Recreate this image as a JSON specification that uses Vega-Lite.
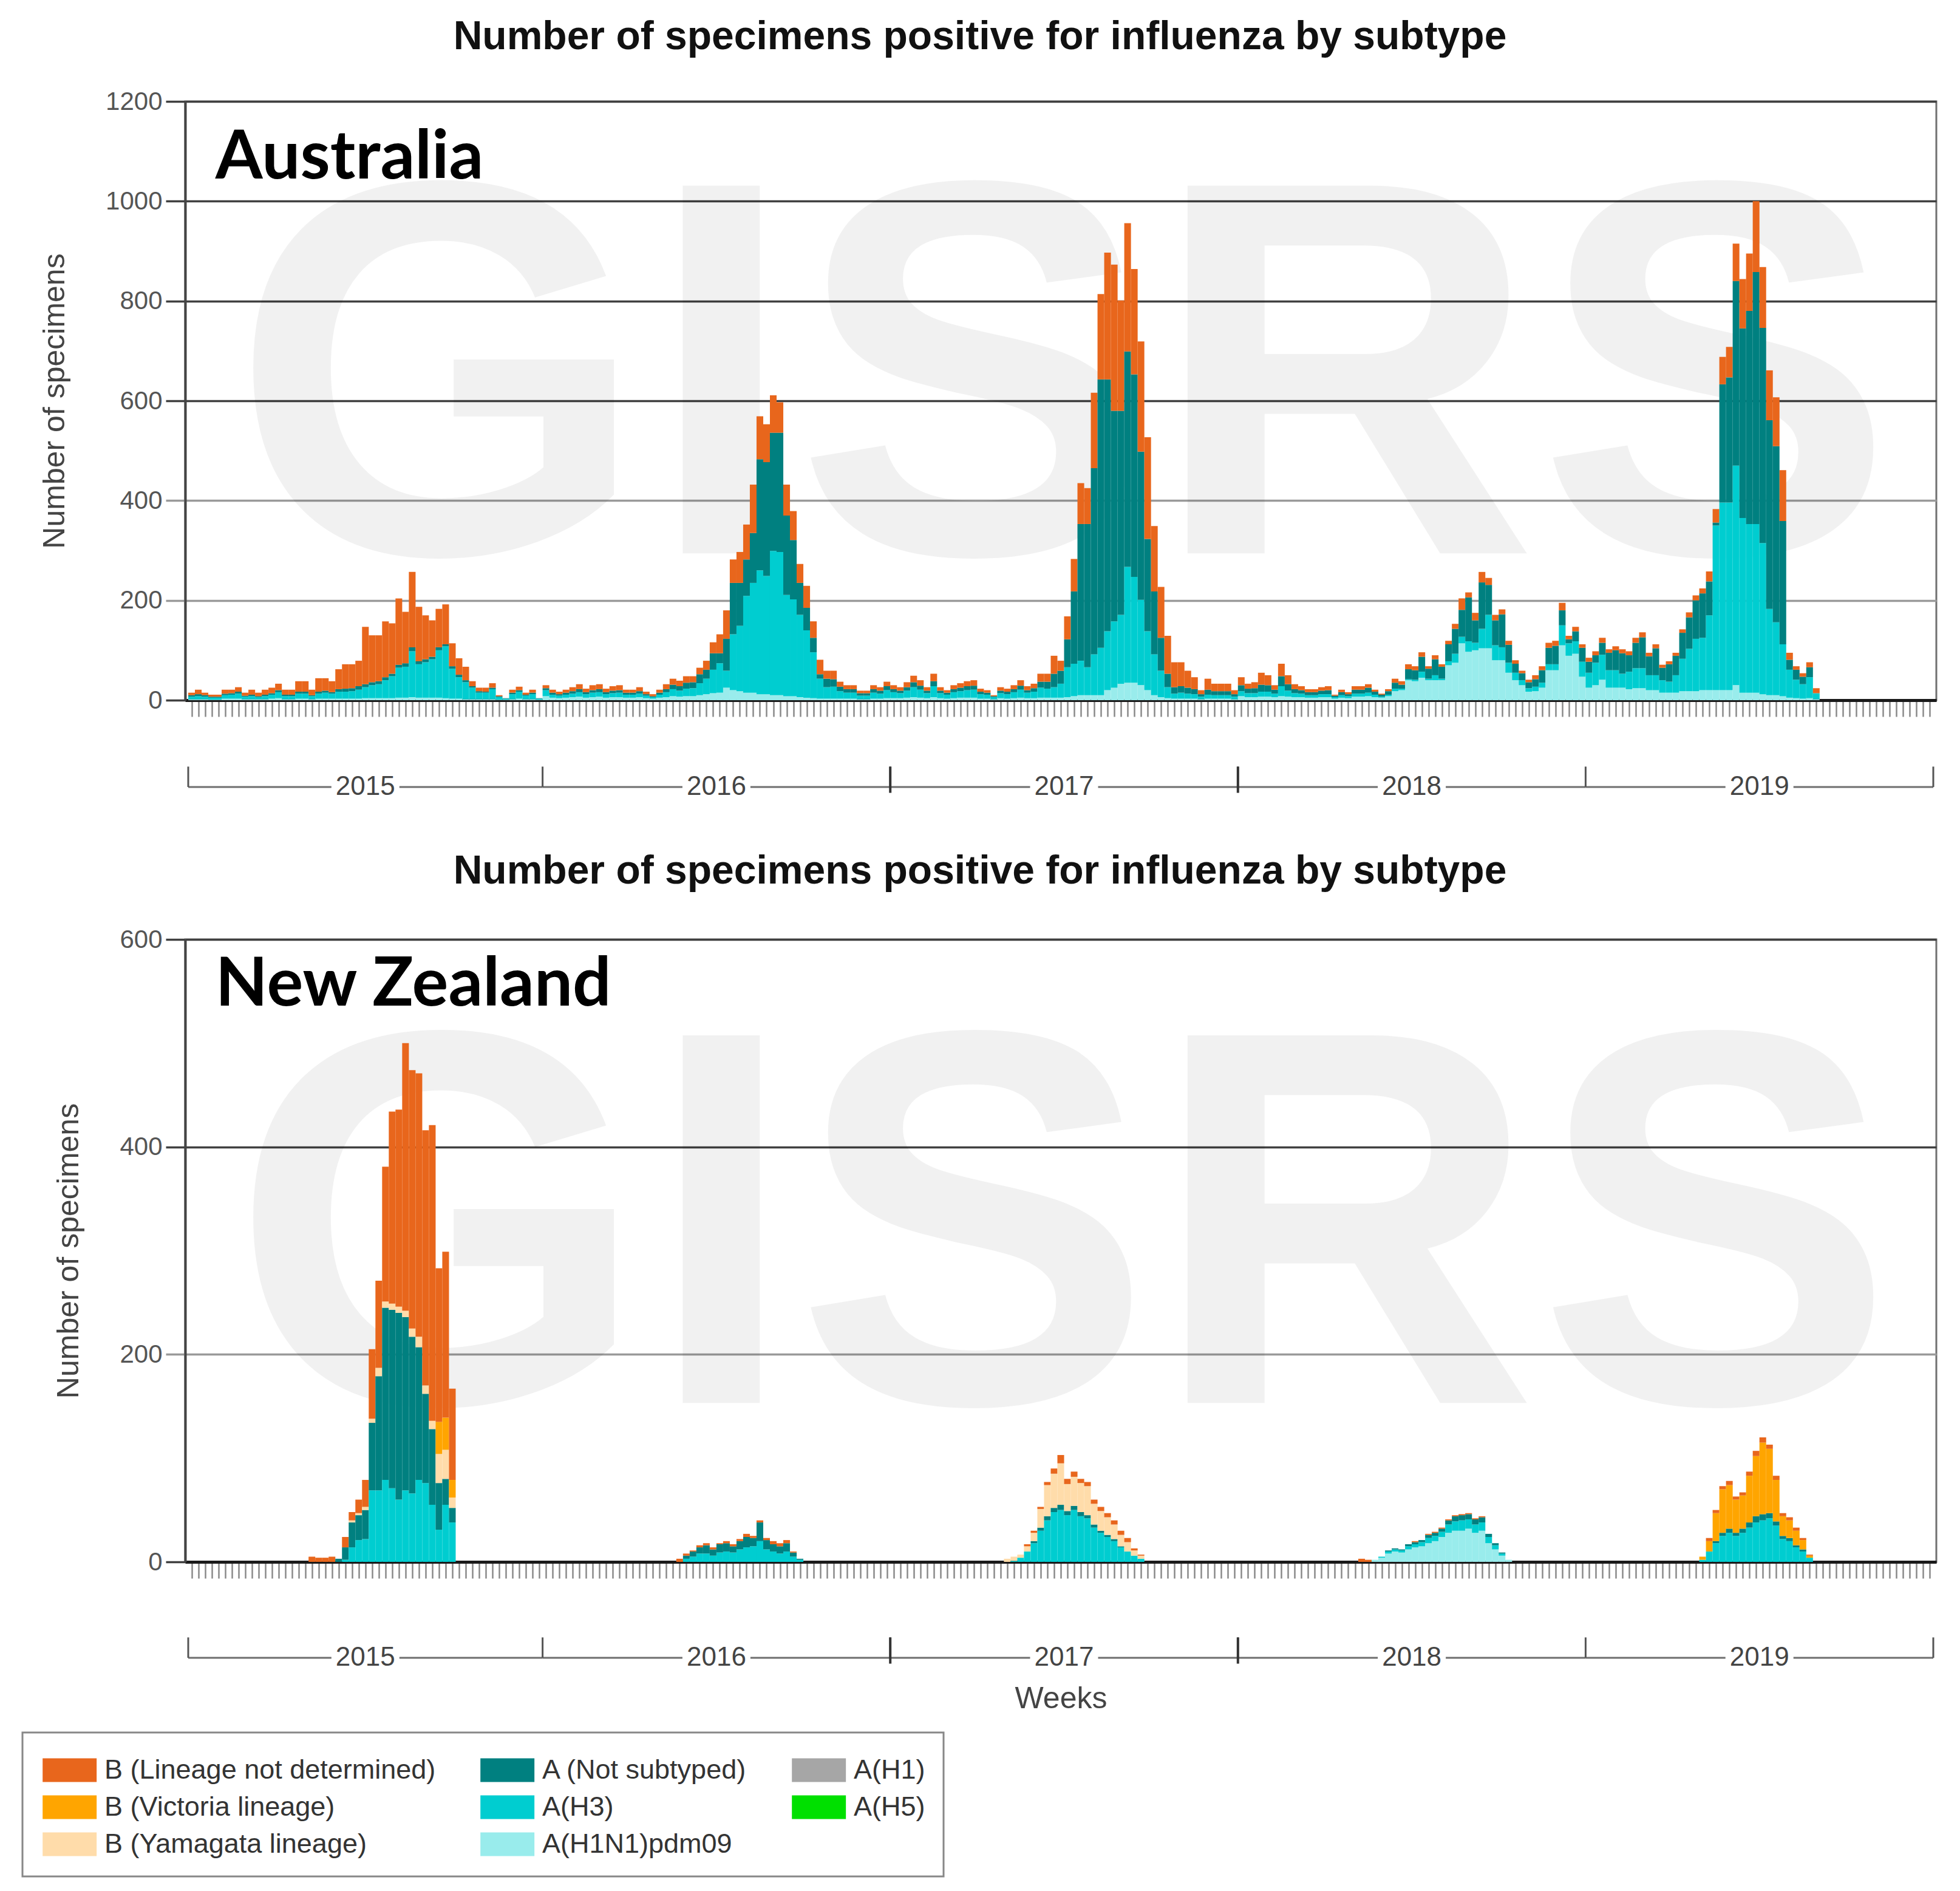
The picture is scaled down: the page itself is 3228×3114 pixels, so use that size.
{
"$schema": "https://vega.github.io/schema/vega-lite/v6.json",
"background": "white",
"padding": {"left": 35, "top": 26, "right": 30, "bottom": 10},
"config": {"view": {"stroke": null}, "font": "Liberation Sans", "axis": {"labelFont": "Liberation Sans", "titleFont": "Liberation Sans"}, "legend": {"strokeWidth": 3}},
"datasets": {
"lab": [{"k":"p","sub":"A(H1N1)pdm09"},{"k":"h","sub":"A(H3)"},{"k":"n","sub":"A (Not subtyped)"},{"k":"y","sub":"B (Yamagata lineage)"},{"k":"v","sub":"B (Victoria lineage)"},{"k":"b","sub":"B (Lineage not determined)"}],
"yrs": [{"year":"2015","s":-0.5,"e":52.5},{"year":"2016","s":52.5,"e":104.5},{"year":"2017","s":104.5,"e":156.5},{"year":"2018","s":156.5,"e":208.5},{"year":"2019","s":208.5,"e":260.5}],
"au": [
{"w":0,"p":2,"h":5,"n":3,"b":5},{"w":1,"p":2,"h":6,"n":4,"b":9},{"w":2,"p":2,"h":5,"n":3,"b":5},{"w":3,"p":1,"h":4,"n":2,"b":4},{"w":4,"p":1,"h":4,"n":2,"b":4},
{"w":5,"p":3,"h":7,"n":3,"b":8},{"w":6,"p":3,"h":8,"n":3,"b":7},{"w":7,"p":3,"h":10,"n":4,"b":9},{"w":8,"p":2,"h":5,"n":2,"b":6},{"w":9,"p":2,"h":6,"n":3,"b":10},
{"w":10,"p":2,"h":4,"n":2,"b":7},{"w":11,"p":2,"h":6,"n":3,"b":10},{"w":12,"p":3,"h":8,"n":3,"b":11},{"w":13,"p":4,"h":12,"n":4,"b":13},{"w":14,"p":2,"h":6,"n":3,"b":10},
{"w":15,"p":2,"h":6,"n":3,"b":10},{"w":16,"p":3,"h":10,"n":4,"b":21},{"w":17,"p":3,"h":10,"n":4,"b":21},{"w":18,"p":2,"h":6,"n":2,"b":11},{"w":19,"p":3,"h":10,"n":4,"b":27},
{"w":20,"p":3,"h":12,"n":4,"b":25},{"w":21,"p":3,"h":10,"n":3,"b":22},{"w":22,"p":3,"h":14,"n":5,"b":40},{"w":23,"p":3,"h":14,"n":6,"b":49},{"w":24,"p":3,"h":15,"n":6,"b":48},
{"w":25,"p":3,"h":18,"n":7,"b":51},{"w":26,"p":4,"h":22,"n":6,"b":115},{"w":27,"p":4,"h":26,"n":6,"b":94},{"w":28,"p":4,"h":28,"n":6,"b":92},{"w":29,"p":4,"h":36,"n":6,"b":112},
{"w":30,"p":4,"h":44,"n":5,"b":101},{"w":31,"p":5,"h":60,"n":6,"b":133},{"w":32,"p":5,"h":62,"n":7,"b":103},{"w":33,"p":6,"h":92,"n":8,"b":151},{"w":34,"p":5,"h":67,"n":6,"b":109},
{"w":35,"p":5,"h":71,"n":6,"b":88},{"w":36,"p":5,"h":77,"n":5,"b":73},{"w":37,"p":5,"h":95,"n":6,"b":77},{"w":38,"p":4,"h":104,"n":4,"b":80},{"w":39,"p":3,"h":60,"n":5,"b":46},
{"w":40,"p":3,"h":43,"n":5,"b":33},{"w":41,"p":2,"h":34,"n":4,"b":27},{"w":42,"p":2,"h":23,"n":3,"b":10},{"w":43,"p":2,"h":13,"n":3,"b":7},{"w":44,"p":2,"h":13,"n":2,"b":8},
{"w":45,"p":2,"h":20,"n":3,"b":9},{"w":46,"p":1,"h":5,"n":2,"b":2},{"w":47,"p":1,"h":2,"n":1},{"w":48,"p":2,"h":10,"n":3,"b":6},{"w":49,"p":3,"h":14,"n":3,"b":7},
{"w":50,"p":2,"h":7,"n":2,"b":4},{"w":51,"p":2,"h":10,"n":3,"b":6},{"w":52,"p":1,"h":2,"n":1},
{"w":53,"p":8,"h":12,"n":4,"b":6},{"w":54,"p":5,"h":6,"n":4,"b":6},{"w":55,"p":4,"h":5,"n":3,"b":5},{"w":56,"p":5,"h":6,"n":4,"b":6},{"w":57,"p":6,"h":7,"n":5,"b":8},
{"w":58,"p":7,"h":9,"n":6,"b":10},{"w":59,"p":5,"h":7,"n":4,"b":7},{"w":60,"p":6,"h":9,"n":5,"b":10},{"w":61,"p":7,"h":9,"n":6,"b":10},{"w":62,"p":5,"h":7,"n":4,"b":7},
{"w":63,"p":6,"h":8,"n":5,"b":9},{"w":64,"p":6,"h":9,"n":5,"b":10},{"w":65,"p":5,"h":6,"n":4,"b":6},{"w":66,"p":5,"h":6,"n":4,"b":6},{"w":67,"p":6,"h":7,"n":5,"b":8},
{"w":68,"p":4,"h":5,"n":3,"b":5},{"w":69,"p":3,"h":3,"n":2,"b":4},{"w":70,"p":5,"h":6,"n":4,"b":6},{"w":71,"p":6,"h":10,"n":6,"b":10},{"w":72,"p":8,"h":14,"n":9,"b":12},
{"w":73,"p":7,"h":12,"n":9,"b":11},{"w":74,"p":8,"h":15,"n":12,"b":13},{"w":75,"p":8,"h":16,"n":12,"b":12},{"w":76,"p":10,"h":24,"n":18,"b":13},{"w":77,"p":12,"h":31,"n":18,"b":18},
{"w":78,"p":14,"h":47,"n":33,"b":22},{"w":79,"p":15,"h":59,"n":20,"b":38},{"w":80,"p":25,"h":34,"n":64,"b":57},{"w":81,"p":20,"h":112,"n":103,"b":47},{"w":82,"p":18,"h":131,"n":86,"b":62},
{"w":83,"p":15,"h":194,"n":73,"b":70},{"w":84,"p":15,"h":220,"n":100,"b":97},{"w":85,"p":12,"h":248,"n":223,"b":86},{"w":86,"p":12,"h":237,"n":228,"b":76},{"w":87,"p":10,"h":289,"n":237,"b":75},
{"w":88,"p":10,"h":287,"n":239,"b":61},{"w":89,"p":8,"h":203,"n":159,"b":62},{"w":90,"p":8,"h":194,"n":119,"b":58},{"w":91,"p":6,"h":165,"n":64,"b":38},{"w":92,"p":5,"h":135,"n":45,"b":44},
{"w":93,"p":4,"h":92,"n":29,"b":33},{"w":94,"p":3,"h":40,"n":9,"b":29},{"w":95,"p":3,"h":23,"n":17,"b":16},{"w":96,"p":3,"h":24,"n":15,"b":17},{"w":97,"p":3,"h":15,"n":9,"b":10},
{"w":98,"p":3,"h":12,"n":7,"b":8},{"w":99,"p":3,"h":12,"n":7,"b":8},{"w":100,"p":2,"h":7,"n":5,"b":5},{"w":101,"p":2,"h":7,"n":5,"b":5},{"w":102,"p":3,"h":12,"n":7,"b":8},
{"w":103,"p":3,"h":10,"n":6,"b":7},{"w":104,"p":4,"h":16,"n":8,"b":9},
{"w":105,"p":4,"h":12,"n":6,"b":8},{"w":106,"p":4,"h":10,"n":5,"b":7},{"w":107,"p":5,"h":14,"n":7,"b":10},{"w":108,"p":6,"h":20,"n":10,"b":13},{"w":109,"p":5,"h":16,"n":8,"b":11},
{"w":110,"p":4,"h":10,"n":5,"b":7},{"w":111,"p":6,"h":22,"n":10,"b":15},{"w":112,"p":4,"h":10,"n":5,"b":7},{"w":113,"p":3,"h":8,"n":4,"b":5},{"w":114,"p":4,"h":12,"n":6,"b":8},
{"w":115,"p":5,"h":13,"n":7,"b":9},{"w":116,"p":5,"h":15,"n":8,"b":10},{"w":117,"p":5,"h":16,"n":8,"b":11},{"w":118,"p":3,"h":9,"n":5,"b":6},{"w":119,"p":3,"h":8,"n":4,"b":5},
{"w":120,"p":2,"h":4,"n":2,"b":2},{"w":121,"p":4,"h":10,"n":5,"b":7},{"w":122,"p":3,"h":9,"n":5,"b":6},{"w":123,"p":4,"h":12,"n":6,"b":8},{"w":124,"p":5,"h":16,"n":8,"b":11},
{"w":125,"p":4,"h":11,"n":5,"b":8},{"w":126,"p":4,"h":13,"n":7,"b":9},{"w":127,"p":5,"h":20,"n":12,"b":16},{"w":128,"p":5,"h":18,"n":14,"b":16},{"w":129,"p":5,"h":21,"n":27,"b":36},
{"w":130,"p":5,"h":28,"n":26,"b":20},{"w":131,"p":6,"h":60,"n":56,"b":46},{"w":132,"p":8,"h":65,"n":145,"b":65},{"w":133,"p":10,"h":69,"n":274,"b":82},{"w":134,"p":10,"h":56,"n":287,"b":72},
{"w":135,"p":10,"h":82,"n":373,"b":151},{"w":136,"p":10,"h":95,"n":538,"b":171},{"w":137,"p":20,"h":118,"n":505,"b":254},{"w":138,"p":25,"h":133,"n":422,"b":293},{"w":139,"p":33,"h":138,"n":409,"b":221},
{"w":140,"p":35,"h":232,"n":432,"b":257},{"w":141,"p":35,"h":212,"n":406,"b":211},{"w":142,"p":30,"h":171,"n":297,"b":221},{"w":143,"p":20,"h":118,"n":185,"b":204},{"w":144,"p":10,"h":82,"n":126,"b":131},
{"w":145,"p":6,"h":53,"n":66,"b":102},{"w":146,"p":4,"h":22,"n":27,"b":76},{"w":147,"p":3,"h":10,"n":13,"b":50},{"w":148,"p":3,"h":12,"n":13,"b":48},{"w":149,"p":3,"h":10,"n":12,"b":34},
{"w":150,"p":3,"h":9,"n":10,"b":24},{"w":151,"p":2,"h":5,"n":5,"b":8},{"w":152,"p":3,"h":8,"n":10,"b":22},{"w":153,"p":3,"h":7,"n":8,"b":15},{"w":154,"p":3,"h":7,"n":8,"b":15},
{"w":155,"p":3,"h":7,"n":8,"b":15},{"w":156,"p":2,"h":5,"n":5,"b":8},
{"w":157,"p":8,"h":10,"n":12,"b":16},{"w":158,"p":6,"h":8,"n":9,"b":10},{"w":159,"p":6,"h":8,"n":10,"b":12},{"w":160,"p":7,"h":10,"n":14,"b":24},{"w":161,"p":7,"h":10,"n":13,"b":20},
{"w":162,"p":6,"h":7,"n":8,"b":9},{"w":163,"p":8,"h":20,"n":20,"b":25},{"w":164,"p":7,"h":12,"n":13,"b":18},{"w":165,"p":6,"h":8,"n":8,"b":10},{"w":166,"p":6,"h":7,"n":7,"b":8},
{"w":167,"p":5,"h":5,"n":6,"b":6},{"w":168,"p":5,"h":5,"n":6,"b":6},{"w":169,"p":6,"h":6,"n":7,"b":7},{"w":170,"p":6,"h":6,"n":8,"b":8},{"w":171,"p":3,"h":3,"n":3,"b":2},
{"w":172,"p":5,"h":5,"n":6,"b":5},{"w":173,"p":4,"h":4,"n":4,"b":4},{"w":174,"p":7,"h":6,"n":8,"b":7},{"w":175,"p":7,"h":6,"n":8,"b":7},{"w":176,"p":8,"h":7,"n":10,"b":7},
{"w":177,"p":6,"h":5,"n":6,"b":4},{"w":178,"p":5,"h":2,"n":4,"b":2},{"w":179,"p":8,"h":3,"n":7,"b":4},{"w":180,"p":18,"h":5,"n":12,"b":8},{"w":181,"p":20,"h":3,"n":8,"b":7},
{"w":182,"p":40,"h":2,"n":20,"b":10},{"w":183,"p":38,"h":3,"n":19,"b":8},{"w":184,"p":45,"h":12,"n":30,"b":9},{"w":185,"p":40,"h":3,"n":20,"b":5},{"w":186,"p":40,"h":10,"n":32,"b":8},
{"w":187,"p":40,"h":3,"n":24,"b":5},{"w":188,"p":70,"h":8,"n":34,"b":7},{"w":189,"p":75,"h":18,"n":50,"b":10},{"w":190,"p":114,"h":13,"n":54,"b":23},{"w":191,"p":97,"h":21,"n":88,"b":10},
{"w":192,"p":100,"h":15,"n":45,"b":15},{"w":193,"p":104,"h":39,"n":93,"b":21},{"w":194,"p":104,"h":67,"n":60,"b":14},{"w":195,"p":80,"h":30,"n":50,"b":11},{"w":196,"p":80,"h":26,"n":66,"b":10},
{"w":197,"p":55,"h":20,"n":36,"b":8},{"w":198,"p":40,"h":15,"n":18,"b":7},{"w":199,"p":30,"h":10,"n":14,"b":5},{"w":200,"p":17,"h":7,"n":12,"b":5},{"w":201,"p":18,"h":9,"n":15,"b":8},
{"w":202,"p":25,"h":10,"n":25,"b":8},{"w":203,"p":60,"h":12,"n":33,"b":10},{"w":204,"p":60,"h":12,"n":37,"b":10},{"w":205,"p":110,"h":40,"n":30,"b":15},{"w":206,"p":89,"h":25,"n":8,"b":7},
{"w":207,"p":93,"h":25,"n":20,"b":9},{"w":208,"p":47,"h":30,"n":28,"b":7},
{"w":209,"p":25,"h":30,"n":22,"b":8},{"w":210,"p":30,"h":45,"n":15,"b":8},{"w":211,"p":41,"h":50,"n":24,"b":10},{"w":212,"p":25,"h":35,"n":35,"b":7},{"w":213,"p":25,"h":35,"n":40,"b":8},
{"w":214,"p":25,"h":28,"n":41,"b":8},{"w":215,"p":22,"h":35,"n":33,"b":8},{"w":216,"p":24,"h":40,"n":51,"b":10},{"w":217,"p":24,"h":40,"n":62,"b":10},{"w":218,"p":20,"h":30,"n":38,"b":7},
{"w":219,"p":20,"h":30,"n":54,"b":8},{"w":220,"p":15,"h":25,"n":25,"b":6},{"w":221,"p":15,"h":22,"n":35,"b":6},{"w":222,"p":15,"h":35,"n":39,"b":6},{"w":223,"p":18,"h":65,"n":52,"b":7},
{"w":224,"p":18,"h":85,"n":63,"b":10},{"w":225,"p":18,"h":105,"n":77,"b":10},{"w":226,"p":20,"h":105,"n":89,"b":10},{"w":227,"p":20,"h":150,"n":68,"b":20},{"w":228,"p":20,"h":330,"n":6,"b":27},
{"w":229,"p":20,"h":376,"n":237,"b":55},{"w":230,"p":20,"h":376,"n":251,"b":61},{"w":231,"p":30,"h":440,"n":370,"b":75},{"w":232,"p":15,"h":350,"n":380,"b":99},{"w":233,"p":15,"h":338,"n":427,"b":115},
{"w":234,"p":15,"h":338,"n":505,"b":142},{"w":235,"p":12,"h":303,"n":431,"b":122},{"w":236,"p":10,"h":173,"n":378,"b":100},{"w":237,"p":10,"h":146,"n":353,"b":98},{"w":238,"p":8,"h":104,"n":247,"b":102},
{"w":239,"p":5,"h":56,"n":20,"b":14},{"w":240,"p":4,"h":37,"n":20,"b":7},{"w":241,"p":3,"h":29,"n":15,"b":7},{"w":242,"p":4,"h":42,"n":20,"b":10},{"w":243,"p":2,"h":12,"b":10}
],
"nz": [
{"w":18,"b":5},{"w":19,"b":4},{"w":20,"b":4},{"w":21,"b":5},{"w":22,"n":3},
{"w":23,"h":2,"n":12,"b":10},{"w":24,"h":14,"n":24,"y":2,"b":8},{"w":25,"h":21,"n":24,"y":2,"b":13},{"w":26,"h":22,"n":28,"y":3,"b":26},{"w":27,"h":69,"n":65,"y":4,"b":67},
{"w":28,"h":69,"n":110,"y":8,"b":84},{"w":29,"h":79,"n":166,"y":6,"b":130},{"w":30,"h":71,"n":172,"y":6,"b":185},{"w":31,"h":60,"n":180,"y":6,"b":190},{"w":32,"h":69,"n":167,"y":6,"b":258},
{"w":33,"h":66,"n":151,"y":8,"b":249},{"w":34,"h":79,"n":128,"y":10,"b":254},{"w":35,"h":76,"n":86,"y":8,"b":246},{"w":36,"h":55,"n":73,"y":8,"b":285},{"w":37,"h":31,"n":45,"y":28,"v":31,"b":148},
{"w":38,"h":55,"n":25,"y":28,"v":31,"b":160},{"w":39,"h":38,"n":14,"y":10,"v":17,"b":88},
{"w":73,"b":3},{"w":74,"h":3,"n":3,"b":2},{"w":75,"h":5,"n":5,"b":1},{"w":76,"h":8,"n":6,"b":2},{"w":77,"h":8,"n":8,"b":2},{"w":78,"h":6,"n":6,"b":2},
{"w":79,"h":9,"n":8,"b":1},{"w":80,"h":10,"n":8,"b":2},{"w":81,"h":9,"n":6,"b":2},{"w":82,"h":12,"n":8,"b":2},{"w":83,"h":14,"n":10,"b":3},{"w":84,"h":15,"n":8,"b":2},
{"w":85,"h":20,"n":18,"b":2},{"w":86,"h":12,"n":9,"b":2},{"w":87,"h":10,"n":7,"b":3},{"w":88,"h":8,"n":7,"b":3},{"w":89,"h":10,"n":8,"b":3},{"w":90,"h":5,"n":4,"b":1},{"w":91,"h":2,"n":1},
{"w":122,"y":3},{"w":123,"h":1,"y":4},{"w":124,"h":4,"y":3},{"w":125,"h":10,"y":5,"b":2},{"w":126,"h":18,"n":2,"y":8,"b":2},{"w":127,"h":30,"n":3,"y":18,"b":2},
{"w":128,"h":40,"n":4,"y":30,"b":3},{"w":129,"h":48,"n":4,"y":33,"b":5},{"w":130,"h":50,"n":5,"y":40,"b":8},{"w":131,"h":45,"n":4,"y":26,"b":5},{"w":132,"h":50,"n":4,"y":28,"b":5},
{"w":133,"h":44,"n":4,"y":28,"b":4},{"w":134,"h":42,"n":3,"y":28,"b":4},{"w":135,"h":33,"n":3,"y":20,"b":4},{"w":136,"h":28,"n":2,"y":19,"b":4},{"w":137,"h":24,"n":2,"y":17,"b":4},
{"w":138,"h":20,"n":2,"y":14,"b":4},{"w":139,"h":14,"n":1,"y":11,"b":4},{"w":140,"h":10,"y":9,"b":4},{"w":141,"h":6,"y":5,"b":2},{"w":142,"h":3,"y":3,"b":1},
{"w":175,"b":3},{"w":176,"b":2},{"w":177,"p":2},{"w":178,"p":4,"h":1},{"w":179,"p":8,"h":2,"n":1},{"w":180,"p":10,"h":2,"n":1},{"w":181,"p":9,"h":2,"n":1},
{"w":182,"p":12,"h":3,"n":2},{"w":183,"p":14,"h":3,"n":2,"b":1},{"w":184,"p":15,"h":4,"n":2},{"w":185,"p":18,"h":5,"n":3,"b":1},{"w":186,"p":20,"h":5,"n":3,"b":1},
{"w":187,"p":24,"h":5,"n":3,"b":1},{"w":188,"p":28,"h":8,"n":4,"b":1},{"w":189,"p":30,"h":9,"n":5,"b":1},{"w":190,"p":30,"h":10,"n":5,"b":1},{"w":191,"p":32,"h":9,"n":5,"b":1},
{"w":192,"p":28,"h":8,"n":5,"b":1},{"w":193,"p":30,"h":8,"n":5,"b":1},{"w":194,"p":18,"h":6,"n":3},{"w":195,"p":12,"h":4,"n":2},{"w":196,"p":6,"h":2,"n":1},{"w":197,"p":2},
{"w":226,"h":2,"v":3},{"w":227,"h":10,"v":10,"b":3},{"w":228,"h":18,"n":2,"v":27,"b":3},{"w":229,"h":25,"n":3,"v":42,"b":3},{"w":230,"h":28,"n":4,"v":42,"b":4},
{"w":231,"h":25,"n":3,"v":32,"b":3},{"w":232,"h":28,"n":4,"v":32,"b":3},{"w":233,"h":33,"n":5,"v":45,"b":4},{"w":234,"h":38,"n":6,"v":58,"b":5},{"w":235,"h":40,"n":6,"v":69,"b":5},
{"w":236,"h":42,"n":5,"v":62,"b":4},{"w":237,"h":35,"n":4,"v":40,"b":4},{"w":238,"h":22,"n":3,"v":19,"b":3},{"w":239,"h":20,"n":3,"v":17,"b":3},{"w":240,"h":14,"n":2,"v":14,"b":3},
{"w":241,"h":10,"n":2,"v":9,"b":2},{"w":242,"h":4,"v":2,"b":1}
]
},
"spacing": 64,
"resolve": {"scale": {"x": "independent", "y": "independent"}},
"vconcat": [
{
"spacing": 73,
"resolve": {"scale": {"x": "independent", "y": "independent"}},
"vconcat": [
{
"width": 2884, "height": 986,
"view": {"stroke": "#707070", "strokeWidth": 3},
"title": {"text": "Number of specimens positive for influenza by subtype", "font": "Liberation Sans", "fontSize": 66, "fontWeight": "bold", "color": "#111", "baseline": "alphabetic", "frame": "group", "offset": -1, "dx": -133, "anchor": "middle"},
"layer": [
{"data": {"values": [{}]}, "mark": {"type": "text", "text": "GISRS", "font": "Liberation Sans", "fontWeight": "bold", "fontSize": 880, "color": "#000", "opacity": 0.05, "align": "center", "baseline": "top"}, "encoding": {"x": {"datum": 130.3, "type": "quantitative"}, "y": {"datum": 1140, "type": "quantitative"}}},
{"data": {"name": "au"},
 "transform": [{"fold": ["p","h","n","y","v","b"], "as": ["k","val"]}, {"filter": "datum.val > 0"}, {"lookup": "k", "from": {"data": {"name": "lab"}, "key": "k", "fields": ["sub"]}}, {"calculate": "indexof(['p','h','n','y','v','b'], datum.k)", "as": "o"}],
 "mark": {"type": "bar", "orient": "vertical", "width": 11.05},
 "encoding": {
  "x": {"field": "w", "type": "quantitative", "scale": {"domain": [-0.5, 260.5], "nice": false, "zero": false}, "axis": {"title": null, "labels": false, "grid": false, "tickCount": 261, "tickSize": 27, "tickWidth": 2.5, "tickColor": "#8a8a8a", "domainColor": "#1a1a1a", "domainWidth": 5}},
  "y": {"field": "val", "type": "quantitative", "stack": "zero", "scale": {"domain": [0, 1200], "nice": false}, "axis": {"title": "Number of specimens", "format": "d", "values": [0,200,400,600,800,1000,1200], "grid": true, "gridColor": {"condition": {"test": "datum.value === 200 || datum.value === 400", "value": "#9a9a9a"}, "value": "#404040"}, "gridWidth": 3.5, "tickSize": 32, "tickWidth": 3.5, "tickColor": {"condition": {"test": "datum.value === 200 || datum.value === 400", "value": "#9a9a9a"}, "value": "#404040"}, "domainColor": "#444", "domainWidth": 4, "labelFontSize": 42, "labelColor": "#555", "labelPadding": 6, "titleFontSize": 50, "titleFontWeight": "normal", "titleColor": "#444", "titlePadding": 58}},
  "color": {"field": "sub", "type": "nominal",
   "scale": {"domain": ["B (Lineage not determined)","B (Victoria lineage)","B (Yamagata lineage)","A (Not subtyped)","A(H3)","A(H1N1)pdm09","A(H1)","A(H5)"], "range": ["#e8661c","#ffa500","#ffdcaa","#008080","#00cdd0","#99ecec","#a6a6a6","#00e000"]},
   "legend": {"title": null, "orient": "none", "legendX": -268, "legendY": 2686, "columns": 3, "symbolType": "M-0.9,-0.61H1.88V0.61H-0.9Z", "symbolSize": 4096, "symbolStrokeWidth": 0, "labelFont": "Liberation Sans", "labelFontSize": 45, "labelColor": "#333", "labelOffset": 41, "labelLimit": 0, "rowPadding": 6, "columnPadding": 70, "padding": 30, "strokeColor": "#888"}},
  "order": {"field": "o", "type": "quantitative"}
 }
},
{"data": {"values": [{}]}, "mark": {"type": "text", "text": "Australia", "font": "Lato", "fontWeight": "bold", "fontSize": 112, "color": "#000", "align": "left", "baseline": "alphabetic"}, "encoding": {"x": {"datum": 3.57, "type": "quantitative"}, "y": {"datum": 1045, "type": "quantitative"}}}
]
},
{
"width": 2884, "height": 80,
"data": {"name": "yrs"},
"transform": [{"calculate": "(datum.s+datum.e)/2", "as": "m"}],
"layer": [
{"mark": {"type": "rule", "color": "#6e6e6e", "strokeWidth": 3}, "encoding": {"x": {"field": "s", "type": "quantitative", "scale": {"domain": [-0.5, 260.5], "nice": false, "zero": false}, "axis": null}, "x2": {"field": "e"}, "y": {"datum": 0.5, "type": "quantitative", "scale": {"domain": [0, 1]}, "axis": null}}},
{"mark": {"type": "bar", "width": 112, "color": "white"}, "encoding": {"x": {"field": "m", "type": "quantitative"}, "y": {"datum": 0.15}, "y2": {"datum": 0.85}}},
{"mark": {"type": "rule", "color": "#555", "strokeWidth": 3}, "encoding": {"x": {"field": "s", "type": "quantitative"}, "y": {"datum": 0.5}, "y2": {"datum": 0.92}}},
{"transform": [{"filter": "datum.year == '2019'"}], "mark": {"type": "rule", "color": "#555", "strokeWidth": 3}, "encoding": {"x": {"field": "e", "type": "quantitative"}, "y": {"datum": 0.5}, "y2": {"datum": 0.92}}},
{"transform": [{"filter": "datum.year == '2017' || datum.year == '2018'"}], "mark": {"type": "rule", "color": "#333", "strokeWidth": 4}, "encoding": {"x": {"field": "s", "type": "quantitative"}, "y": {"datum": 0.38}, "y2": {"datum": 0.92}}},
{"mark": {"type": "text", "font": "Liberation Sans", "fontSize": 44, "color": "#444", "baseline": "middle", "align": "center"}, "encoding": {"x": {"field": "m", "type": "quantitative"}, "y": {"datum": 0.5}, "text": {"field": "year"}}}
]
}
]
},
{
"spacing": 88,
"resolve": {"scale": {"x": "independent", "y": "independent"}},
"vconcat": [
{
"width": 2884, "height": 1025,
"view": {"stroke": "#707070", "strokeWidth": 3},
"title": {"text": "Number of specimens positive for influenza by subtype", "font": "Liberation Sans", "fontSize": 66, "fontWeight": "bold", "color": "#111", "baseline": "alphabetic", "frame": "group", "offset": 5, "dx": -133, "anchor": "middle"},
"layer": [
{"data": {"values": [{}]}, "mark": {"type": "text", "text": "GISRS", "font": "Liberation Sans", "fontWeight": "bold", "fontSize": 880, "color": "#000", "opacity": 0.05, "align": "center", "baseline": "top"}, "encoding": {"x": {"datum": 130.3, "type": "quantitative"}, "y": {"datum": 560, "type": "quantitative"}}},
{"data": {"name": "nz"},
 "transform": [{"fold": ["p","h","n","y","v","b"], "as": ["k","val"]}, {"filter": "datum.val > 0"}, {"lookup": "k", "from": {"data": {"name": "lab"}, "key": "k", "fields": ["sub"]}}, {"calculate": "indexof(['p','h','n','y','v','b'], datum.k)", "as": "o"}],
 "mark": {"type": "bar", "orient": "vertical", "width": 11.05},
 "encoding": {
  "x": {"field": "w", "type": "quantitative", "scale": {"domain": [-0.5, 260.5], "nice": false, "zero": false}, "axis": {"title": null, "labels": false, "grid": false, "tickCount": 261, "tickSize": 27, "tickWidth": 2.5, "tickColor": "#8a8a8a", "domainColor": "#1a1a1a", "domainWidth": 5}},
  "y": {"field": "val", "type": "quantitative", "stack": "zero", "scale": {"domain": [0, 600], "nice": false}, "axis": {"title": "Number of specimens", "format": "d", "values": [0,200,400,600], "grid": true, "gridColor": {"condition": {"test": "datum.value === 200", "value": "#9a9a9a"}, "value": "#404040"}, "gridWidth": 3.5, "tickSize": 32, "tickWidth": 3.5, "tickColor": {"condition": {"test": "datum.value === 200", "value": "#9a9a9a"}, "value": "#404040"}, "domainColor": "#444", "domainWidth": 4, "labelFontSize": 42, "labelColor": "#555", "labelPadding": 6, "titleFontSize": 50, "titleFontWeight": "normal", "titleColor": "#444", "titlePadding": 58}},
  "color": {"field": "sub", "type": "nominal",
   "scale": {"domain": ["B (Lineage not determined)","B (Victoria lineage)","B (Yamagata lineage)","A (Not subtyped)","A(H3)","A(H1N1)pdm09","A(H1)","A(H5)"], "range": ["#e8661c","#ffa500","#ffdcaa","#008080","#00cdd0","#99ecec","#a6a6a6","#00e000"]},
   "legend": {"title": null, "orient": "none", "legendX": -268, "legendY": 2686, "columns": 3, "symbolType": "M-0.9,-0.61H1.88V0.61H-0.9Z", "symbolSize": 4096, "symbolStrokeWidth": 0, "labelFont": "Liberation Sans", "labelFontSize": 45, "labelColor": "#333", "labelOffset": 41, "labelLimit": 0, "rowPadding": 6, "columnPadding": 70, "padding": 30, "strokeColor": "#888"}},
  "order": {"field": "o", "type": "quantitative"}
 }
},
{"data": {"values": [{}]}, "mark": {"type": "text", "text": "New Zealand", "font": "Lato", "fontWeight": "bold", "fontSize": 112, "color": "#000", "align": "left", "baseline": "alphabetic"}, "encoding": {"x": {"datum": 3.57, "type": "quantitative"}, "y": {"datum": 536, "type": "quantitative"}}}
]
},
{
"width": 2884, "height": 80,
"data": {"name": "yrs"},
"transform": [{"calculate": "(datum.s+datum.e)/2", "as": "m"}],
"layer": [
{"mark": {"type": "rule", "color": "#6e6e6e", "strokeWidth": 3}, "encoding": {"x": {"field": "s", "type": "quantitative", "scale": {"domain": [-0.5, 260.5], "nice": false, "zero": false}, "axis": {"title": "Weeks", "labels": false, "ticks": false, "domain": false, "grid": false, "titleFont": "Liberation Sans", "titleFontSize": 50, "titleFontWeight": "normal", "titleColor": "#444", "titlePadding": 2}}, "x2": {"field": "e"}, "y": {"datum": 0.5, "type": "quantitative", "scale": {"domain": [0, 1]}, "axis": null}}},
{"mark": {"type": "bar", "width": 112, "color": "white"}, "encoding": {"x": {"field": "m", "type": "quantitative"}, "y": {"datum": 0.15}, "y2": {"datum": 0.85}}},
{"mark": {"type": "rule", "color": "#555", "strokeWidth": 3}, "encoding": {"x": {"field": "s", "type": "quantitative"}, "y": {"datum": 0.5}, "y2": {"datum": 0.92}}},
{"transform": [{"filter": "datum.year == '2019'"}], "mark": {"type": "rule", "color": "#555", "strokeWidth": 3}, "encoding": {"x": {"field": "e", "type": "quantitative"}, "y": {"datum": 0.5}, "y2": {"datum": 0.92}}},
{"transform": [{"filter": "datum.year == '2017' || datum.year == '2018'"}], "mark": {"type": "rule", "color": "#333", "strokeWidth": 4}, "encoding": {"x": {"field": "s", "type": "quantitative"}, "y": {"datum": 0.38}, "y2": {"datum": 0.92}}},
{"mark": {"type": "text", "font": "Liberation Sans", "fontSize": 44, "color": "#444", "baseline": "middle", "align": "center"}, "encoding": {"x": {"field": "m", "type": "quantitative"}, "y": {"datum": 0.5}, "text": {"field": "year"}}}
]
}
]
}
]
}
